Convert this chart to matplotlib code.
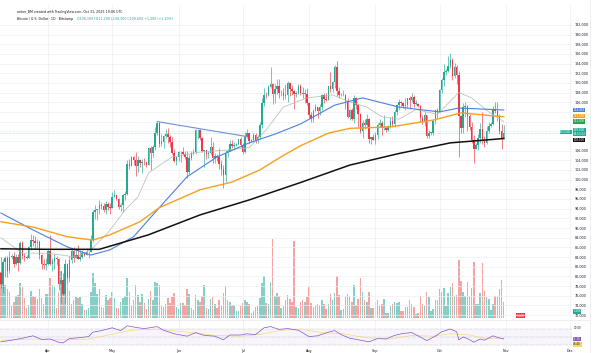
import numpy as np
import pandas as pd
import matplotlib
matplotlib.use("Agg")
import matplotlib.pyplot as plt
import matplotlib.dates as mdates
from matplotlib.lines import Line2D

# BTC / USD, Bitstamp, 1D candles from 10 Mar to 31 Oct 2025 (prices in thousands of USD)
first_open = 80.7
close = [
    # Mar 10-31
    78.5, 82.9, 83.7, 81.1, 84.0, 84.3, 82.6, 84.1, 82.7, 86.9, 84.2, 84.1, 83.8, 86.1, 87.5, 87.4,
    86.9, 87.2, 84.4, 82.6, 82.4, 82.5,
    # Apr
    85.2, 82.5, 83.1, 83.9, 83.5, 78.4, 79.2, 76.3, 82.6, 79.6, 83.4, 85.3, 83.7, 84.5, 83.6, 84.0,
    84.9, 84.5, 85.0, 85.1, 87.5, 93.4, 93.7, 93.9, 94.7, 94.6, 93.8, 94.9, 94.3, 94.2,
    # May
    96.5, 96.9, 95.9, 94.3, 94.7, 96.8, 97.0, 103.2, 102.9, 104.7, 104.1, 102.8, 104.1, 103.5, 103.7,
    103.6, 103.1, 106.5, 105.6, 106.8, 109.7, 111.7, 107.3, 107.8, 109.0, 109.4, 108.9, 107.8, 105.6,
    103.9, 104.6,
    # Jun
    105.7, 105.8, 105.4, 104.7, 101.5, 104.4, 105.6, 105.7, 110.2, 110.2, 108.6, 105.9, 106.1, 105.4,
    105.5, 106.8, 104.5, 104.8, 104.6, 103.3, 102.1, 100.9, 105.5, 106.0, 107.3, 106.9, 107.1, 107.3,
    108.3, 107.1,
    # Jul
    105.7, 108.8, 109.6, 108.0, 108.2, 109.2, 108.2, 108.9, 111.3, 115.9, 117.5, 117.4, 119.1, 119.8,
    117.7, 118.7, 119.3, 117.9, 117.9, 117.3, 117.4, 120.0, 118.7, 118.3, 117.6, 117.9, 119.4, 118.0,
    117.8, 117.8, 115.8,
    # Aug
    113.3, 112.6, 114.2, 115.1, 114.1, 115.0, 117.5, 116.7, 116.5, 119.3, 118.7, 120.2, 123.3, 118.3,
    117.4, 117.5, 117.5, 116.3, 112.9, 114.3, 112.5, 116.9, 115.4, 113.5, 110.1, 111.8, 111.3, 112.6,
    108.4, 108.8, 108.2,
    # Sep
    109.3, 111.2, 111.7, 110.7, 110.7, 110.2, 111.1, 112.1, 111.5, 113.9, 115.4, 116.1, 115.9, 115.3,
    115.4, 116.8, 116.5, 117.1, 115.7, 115.7, 115.3, 112.7, 112.0, 113.3, 109.0, 109.7, 109.7, 112.1,
    114.4, 114.0,
    # Oct
    118.6, 120.6, 122.3, 122.4, 123.5, 124.8, 121.4, 123.3, 121.7, 113.2, 110.7, 115.1, 115.3, 113.1,
    110.8, 108.2, 106.4, 107.2, 108.6, 110.5, 108.4, 107.6, 110.1, 111.0, 111.6, 114.5, 114.1, 112.9,
    110.1, 108.3, 109.6,
]
high = [
    84.0, 83.6, 84.3, 84.3, 85.3, 84.7, 85.0, 84.7, 84.6, 87.4, 87.4, 84.8, 84.5, 86.2, 88.8, 88.5,
    88.3, 87.8, 87.5, 84.6, 83.5, 83.9,
    85.6, 88.5, 83.9, 84.7, 84.2, 83.8, 81.2, 80.8, 83.5, 82.7, 84.2, 85.9, 86.1, 85.8, 86.4, 85.4,
    85.5, 85.1, 85.6, 85.3, 88.5, 93.8, 94.7, 94.0, 95.8, 95.1, 95.2, 95.6, 95.4, 95.2,
    97.4, 97.9, 96.9, 96.3, 95.2, 97.0, 97.7, 104.0, 104.3, 104.9, 104.9, 105.8, 104.9, 104.3, 104.2,
    104.5, 103.7, 106.8, 107.0, 107.1, 110.8, 112.0, 111.9, 109.4, 109.3, 110.4, 110.7, 109.3, 108.9,
    106.3, 104.9,
    105.9, 105.9, 106.8, 106.0, 105.9, 105.3, 105.9, 106.4, 110.5, 110.4, 110.4, 108.8, 106.2, 106.2,
    106.0, 108.9, 107.8, 105.6, 105.3, 106.5, 104.0, 103.1, 106.1, 106.3, 108.1, 108.2, 107.8, 107.6,
    108.5, 108.8,
    107.5, 109.8, 110.5, 109.7, 108.5, 109.7, 109.7, 109.2, 111.9, 116.8, 118.9, 118.2, 119.5, 123.2,
    119.9, 119.8, 120.9, 120.9, 118.6, 118.9, 119.7, 120.3, 120.1, 119.5, 118.5, 118.4, 119.8, 119.8,
    119.2, 118.8, 118.9,
    116.1, 114.0, 114.7, 115.7, 115.1, 115.7, 117.7, 117.9, 117.9, 119.3, 122.3, 120.3, 123.6, 124.5,
    119.2, 117.9, 118.6, 117.6, 116.8, 114.6, 114.8, 117.4, 117.0, 115.6, 113.7, 112.4, 112.6, 113.5,
    112.7, 108.9, 109.5,
    109.9, 111.8, 112.6, 112.1, 113.3, 111.0, 111.3, 112.9, 113.2, 114.3, 115.6, 116.6, 116.3, 116.1,
    116.8, 116.9, 117.3, 117.9, 117.5, 116.4, 115.9, 115.4, 113.3, 114.0, 113.4, 110.3, 109.8, 112.3,
    114.5, 114.8,
    118.7, 121.0, 123.9, 122.9, 125.5, 126.2, 125.1, 124.1, 123.8, 122.5, 113.4, 115.8, 116.0, 115.4,
    113.6, 111.9, 109.3, 107.5, 109.5, 111.7, 114.0, 109.0, 111.0, 112.0, 111.9, 115.2, 116.1, 116.0,
    113.6, 111.6, 111.2,
]
low = [
    77.5, 76.6, 79.9, 79.9, 80.8, 83.6, 82.0, 82.4, 81.2, 82.6, 83.6, 83.2, 83.6, 83.7, 85.5, 86.3,
    85.9, 85.9, 83.6, 81.6, 81.6, 81.3,
    82.4, 82.3, 81.2, 81.6, 82.4, 77.2, 74.5, 76.2, 74.6, 78.4, 78.9, 82.8, 83.0, 83.7, 83.6, 83.1,
    83.9, 84.3, 84.5, 83.9, 85.1, 87.1, 91.9, 91.7, 92.9, 93.9, 93.4, 92.9, 93.8, 92.9,
    94.1, 96.4, 95.7, 93.9, 93.5, 93.4, 95.8, 96.9, 102.3, 102.8, 103.1, 100.8, 101.5, 102.6, 101.4,
    103.1, 102.6, 103.0, 102.0, 104.6, 106.1, 109.3, 106.7, 106.9, 106.6, 108.7, 107.6, 106.8, 105.4,
    103.6, 103.1,
    103.9, 103.7, 105.1, 104.2, 100.4, 101.1, 104.0, 105.1, 105.3, 108.4, 108.1, 105.7, 102.7, 104.3,
    104.5, 105.0, 103.4, 103.5, 103.9, 102.3, 100.9, 98.2, 99.6, 104.6, 105.9, 106.6, 106.2, 106.9,
    107.2, 106.8,
    105.3, 105.5, 108.6, 107.3, 107.8, 107.8, 107.5, 107.5, 108.4, 110.6, 115.3, 116.9, 117.3, 118.9,
    115.7, 115.8, 117.8, 116.8, 117.3, 116.5, 116.6, 116.1, 117.3, 117.4, 114.7, 117.1, 117.8, 117.4,
    116.9, 115.8, 115.5,
    112.7, 112.0, 112.0, 114.1, 112.7, 113.3, 114.3, 115.9, 116.3, 116.5, 118.1, 118.2, 118.9, 117.2,
    116.8, 117.2, 117.2, 114.7, 112.7, 112.4, 112.4, 111.7, 114.6, 110.9, 109.7, 108.7, 110.4, 110.9,
    107.5, 107.4, 108.1,
    107.3, 108.5, 110.8, 109.3, 110.2, 109.9, 110.1, 110.7, 110.8, 110.9, 113.4, 114.3, 115.2, 114.8,
    114.4, 114.8, 114.7, 116.1, 115.1, 115.4, 115.1, 112.0, 111.5, 111.1, 108.6, 108.6, 109.2, 109.2,
    111.6, 112.7,
    113.9, 118.0, 119.3, 121.6, 122.2, 123.1, 120.6, 121.1, 119.7, 104.6, 109.7, 109.7, 113.0, 110.1,
    110.2, 107.6, 103.5, 106.3, 106.2, 107.5, 107.4, 106.7, 107.3, 109.7, 110.8, 111.3, 113.8, 112.2,
    109.5, 106.3, 108.5,
]
# volume, thousands of BTC
volume = [
    4.2, 4.0, 3.0, 2.6, 2.4, 1.1, 1.5, 2.0, 2.1, 3.2, 2.8, 1.8, 0.9, 1.2, 2.5, 2.0, 1.9, 1.7, 2.6, 1.8,
    1.3, 2.2,
    2.2, 3.6, 3.0, 2.9, 0.9, 2.4, 4.3, 3.0, 4.2, 3.0, 2.5, 1.3, 1.6, 1.9, 1.8, 1.9, 1.3, 0.7, 0.7, 0.9,
    2.4, 4.1, 3.2, 2.2, 2.6, 1.0, 0.9, 2.1, 1.6, 1.8,
    2.4, 1.8, 0.9, 0.9, 1.5, 1.8, 2.0, 3.6, 2.4, 1.2, 1.6, 3.0, 2.1, 1.5, 2.2, 1.4, 0.8, 1.7, 2.5, 1.6,
    3.3, 3.2, 3.0, 1.1, 1.0, 1.3, 1.8, 1.4, 1.9, 2.3, 1.0,
    0.8, 1.4, 1.4, 1.2, 2.6, 2.2, 0.9, 0.7, 2.1, 1.6, 1.5, 2.0, 3.0, 0.9, 0.8, 1.7, 1.9, 1.3, 0.9, 1.6,
    1.2, 2.3, 2.9, 1.6, 1.5, 1.2, 1.2, 0.6, 0.6, 1.1,
    1.4, 1.6, 1.5, 1.3, 0.5, 0.6, 1.0, 1.1, 1.8, 3.2, 3.8, 1.4, 1.3, 3.3, 7.2, 2.0, 2.3, 2.0, 0.9, 1.1,
    1.6, 2.1, 1.7, 1.5, 7.0, 1.0, 0.9, 1.5, 1.6, 1.5, 1.9,
    2.8, 1.4, 1.0, 1.2, 1.3, 1.2, 1.6, 1.3, 0.8, 1.3, 2.2, 1.6, 2.3, 3.8, 2.1, 0.7, 0.8, 2.0, 2.2, 2.0,
    1.5, 3.0, 1.2, 1.7, 3.6, 2.4, 1.6, 1.5, 2.4, 0.9, 0.9,
    1.5, 1.6, 1.2, 1.3, 1.7, 0.5, 0.5, 1.1, 1.3, 1.5, 1.4, 1.5, 0.6, 0.6, 1.0, 1.0, 1.6, 1.3, 1.0, 0.4,
    0.5, 2.0, 1.3, 1.2, 2.4, 1.9, 0.6, 0.8, 1.6, 1.6,
    2.6, 2.4, 2.7, 1.1, 2.3, 2.8, 3.2, 2.0, 2.1, 5.3, 3.4, 2.4, 2.0, 3.3, 2.0, 2.7, 5.1, 1.3, 1.3, 2.3,
    5.0, 2.5, 1.9, 1.7, 0.7, 1.3, 2.0, 2.0, 2.6, 3.5, 1.5,
]

# moving averages
sma20_dates = ['2025-03-10', '2025-03-20', '2025-04-01', '2025-04-14', '2025-04-21', '2025-04-29',
               '2025-05-07', '2025-05-13', '2025-05-18', '2025-05-29', '2025-06-11', '2025-06-23',
               '2025-07-04', '2025-07-12', '2025-07-20', '2025-07-31', '2025-08-12', '2025-08-20',
               '2025-08-28', '2025-09-04', '2025-09-12', '2025-09-20', '2025-09-30', '2025-10-10',
               '2025-10-16', '2025-10-24', '2025-10-31']
sma20 = [88.0, 84.8, 84.8, 84.0, 85.5, 89.0, 93.7, 96.4, 101.4, 104.7, 105.7, 106.1, 106.6, 110.3,
         115.0, 116.9, 117.5, 116.1, 115.0, 113.0, 112.5, 114.5, 113.5, 118.0, 116.9, 114.0, 112.0]
sma50_dates = ['2025-03-10', '2025-03-25', '2025-04-10', '2025-04-21', '2025-04-30', '2025-05-11',
               '2025-05-23', '2025-06-05', '2025-06-19', '2025-07-04', '2025-07-16', '2025-07-28',
               '2025-08-13', '2025-08-26', '2025-09-12', '2025-10-01', '2025-10-10', '2025-10-31']
sma50 = [93.1, 89.6, 86.1, 84.4, 85.5, 88.2, 94.2, 100.6, 104.7, 107.6, 109.4, 111.5, 115.4, 116.9,
         115.0, 114.0, 114.8, 114.4]
sma100_dates = ['2025-03-10', '2025-03-25', '2025-04-10', '2025-04-22', '2025-04-30', '2025-05-14',
                '2025-05-23', '2025-06-11', '2025-06-26', '2025-07-09', '2025-07-20', '2025-07-28',
                '2025-08-10', '2025-08-20', '2025-09-08', '2025-09-28', '2025-10-11', '2025-10-31']
sma100 = [91.3, 90.2, 88.2, 87.5, 88.6, 91.3, 94.2, 97.9, 99.5, 102.0, 105.0, 107.0, 109.6, 110.6,
          110.9, 112.3, 113.8, 113.0]
sma200_dates = ['2025-03-10', '2025-04-01', '2025-04-25', '2025-05-18', '2025-06-11', '2025-07-04',
                '2025-07-28', '2025-08-20', '2025-09-12', '2025-10-06', '2025-10-31']
sma200 = [85.7, 85.6, 85.6, 88.6, 92.7, 95.8, 99.4, 103.0, 105.4, 107.6, 108.5]

# descending trendline drawn on the chart
trend_dates = ['2025-05-22', '2025-07-03']
trend_vals = [112.0, 108.9]

# RSI (14) and its moving average
rsi_dates = ['2025-03-10', '2025-03-15', '2025-03-20', '2025-03-25', '2025-03-29', '2025-04-02',
             '2025-04-06', '2025-04-08', '2025-04-11', '2025-04-15', '2025-04-20', '2025-04-22',
             '2025-04-26', '2025-05-01', '2025-05-05', '2025-05-08', '2025-05-12', '2025-05-16',
             '2025-05-22', '2025-05-25', '2025-05-30', '2025-06-05', '2025-06-09', '2025-06-13',
             '2025-06-18', '2025-06-22', '2025-06-25', '2025-06-30', '2025-07-03', '2025-07-07',
             '2025-07-11', '2025-07-14', '2025-07-18', '2025-07-22', '2025-07-27', '2025-08-01',
             '2025-08-05', '2025-08-10', '2025-08-13', '2025-08-16', '2025-08-20', '2025-08-25',
             '2025-08-29', '2025-09-02', '2025-09-06', '2025-09-10', '2025-09-14', '2025-09-18',
             '2025-09-22', '2025-09-25', '2025-09-29', '2025-10-02', '2025-10-06', '2025-10-09',
             '2025-10-10', '2025-10-12', '2025-10-14', '2025-10-17', '2025-10-20', '2025-10-22',
             '2025-10-26', '2025-10-28', '2025-10-31']
rsi = [38, 42, 47, 53, 44, 45, 37, 35, 46, 48, 51, 62, 66, 73, 66, 78, 74, 71, 76, 67, 58, 52, 61,
       54, 52, 43, 55, 55, 58, 56, 73, 76, 69, 71, 67, 51, 53, 62, 66, 56, 47, 42, 38, 46, 45, 54,
       59, 61, 50, 41, 52, 63, 70, 63, 43, 50, 46, 37, 45, 42, 53, 49, 45.1]
rsi_ma_dates = ['2025-03-10', '2025-03-25', '2025-04-08', '2025-04-20', '2025-05-01', '2025-05-10',
                '2025-05-22', '2025-06-05', '2025-06-18', '2025-06-30', '2025-07-10', '2025-07-18',
                '2025-07-28', '2025-08-08', '2025-08-16', '2025-08-28', '2025-09-08', '2025-09-18',
                '2025-09-28', '2025-10-06', '2025-10-14', '2025-10-22', '2025-10-31']
rsi_ma = [42, 45, 43, 45, 57, 67, 70, 62, 54, 52, 57, 66, 70, 60, 59, 48, 45, 54, 52, 58, 56, 47,
          46.4]

price_ticks = list(range(72, 133, 2))
covered_ticks = [108, 110, 112, 114]  # hidden behind the coloured value boxes

UP, DOWN = '#22ab94', '#f23645'
W, H = 600, 353


def box(x0, y0, x1, y1):
    return [x0 / W, 1 - y1 / H, (x1 - x0) / W, (y1 - y0) / H]


dates = pd.date_range('2025-03-10', periods=len(close), freq='D')
c = np.array(close)
o = np.array([first_open] + close[:-1])
hi = np.maximum(np.array(high), np.maximum(o, c))
lo = np.minimum(np.array(low), np.minimum(o, c))
up = c >= o
colors = np.where(up, UP, DOWN)
vcolors = np.where(up, '#86cfc6', '#f4a3a1')

fig = plt.figure(figsize=(6, 3.53), dpi=100)
fig.patch.set_facecolor('white')

axv = fig.add_axes(box(0, 5, 572, 318))
ax = fig.add_axes(box(0, 5, 572, 318), sharex=axv)
ra = fig.add_axes(box(0, 320, 572, 347), sharex=axv)
axv.set_zorder(1)
ax.set_zorder(2)
ax.patch.set_visible(False)

x0 = dates[0] - pd.Timedelta(days=0.43)
x1 = dates[0] + pd.Timedelta(days=266.9)

# volume
axv.bar(dates, volume, width=0.7, color=vcolors, linewidth=0)
axv.set_ylim(0, 28.5)
axv.set_yticks([])
axv.tick_params(axis='x', length=0, labelbottom=False)

# candles
ax.vlines(dates, lo, hi, colors=colors, linewidth=0.45, zorder=2)
ax.bar(dates, np.maximum(np.abs(c - o), 0.08), bottom=np.minimum(o, c), width=0.7,
       color=colors, linewidth=0, zorder=3)

# moving averages and trendline
ax.plot(pd.to_datetime(sma20_dates), sma20, color='#aebcaa', lw=0.5, zorder=4)
ax.plot(pd.to_datetime(sma50_dates), sma50, color='#4d7fe0', lw=0.8, zorder=4)
ax.plot(pd.to_datetime(sma100_dates), sma100, color='#f5a01e', lw=1.0, zorder=4)
ax.plot(pd.to_datetime(sma200_dates), sma200, color='#111111', lw=1.1, zorder=4)
ax.plot(pd.to_datetime(trend_dates), trend_vals, color='#6f8fdc', lw=0.8, zorder=4)
ax.axhline(close[-1], color=UP, lw=0.4, ls=(0, (1, 1.5)), alpha=0.7, zorder=1)

ax.set_xlim(x0, x1)
ax.set_ylim(71.4, 136.1)
ax.set_yticks(price_ticks)
ax.set_yticklabels(['' if v in covered_ticks else f"{v * 1000:,.0f}" for v in price_ticks])
ax.yaxis.tick_right()
ax.tick_params(axis='y', length=0, pad=2.2, labelsize=2.4, labelcolor='#131722')
ax.xaxis.set_major_locator(mdates.MonthLocator())
ax.tick_params(axis='x', length=0, labelbottom=False)
ax.grid(True, color='#eceff4', lw=0.5)
ax.set_axisbelow(True)


def price_label(axis, text, y, color, fg='white', dx=1.0, ha='left'):
    axis.annotate(text, xy=(1, y), xycoords=('axes fraction', 'data'), xytext=(dx, 0),
                  textcoords='offset points', fontsize=2.0, color=fg, va='center', ha=ha,
                  linespacing=1.0,
                  bbox=dict(boxstyle='square,pad=0.15', fc=color, ec='none'),
                  annotation_clip=False, zorder=10)


price_label(ax, f"{sma50[-1] * 1000:,.0f}", 114.41, '#4d7fe0')
price_label(ax, f"{sma100[-1] * 1000:,.0f}", 113.17, '#f5a01e')
price_label(ax, f"{sma20[-1] * 1000:,.0f}", 112.03, '#2e9e4f')
price_label(ax, f"{close[-1] * 1000:,.0f}\n04:53:12", 109.86, UP)
price_label(ax, "BTCUSD", 109.86, UP, dx=-0.5, ha='right')
price_label(ax, f"{sma200[-1] * 1000:,.0f}", 108.21, '#111111')
price_label(axv, f"{volume[-1]:.2f}K", 0.6, '#26a69a')
axv.annotate(f"{volume[-1]:.2f}K", xy=(dates[-1] + pd.Timedelta(days=6), 0.2), fontsize=2.0,
             color='white', va='center', ha='left',
             bbox=dict(boxstyle='square,pad=0.15', fc=DOWN, ec='none'), annotation_clip=False)

# RSI pane
ra.axhspan(30, 70, color='#7e57c2', alpha=0.06, lw=0)
for lvl in (70, 50, 30):
    ra.axhline(lvl, color='#9598a1', lw=0.35, ls=(0, (1, 1.5)))
ra.plot(pd.to_datetime(rsi_ma_dates), rsi_ma, color='#f5d76e', lw=0.45)
ra.plot(pd.to_datetime(rsi_dates), rsi, color='#7e57c2', lw=0.5)
ra.set_ylim(25, 92.5)
ra.set_yticks([])
ra.set_xlim(x0, x1)
ra.xaxis.set_major_locator(mdates.MonthLocator())
ra.xaxis.set_major_formatter(mdates.DateFormatter('%b'))
ra.tick_params(axis='x', length=0, pad=1.4, labelsize=2.4, labelcolor='#131722')
ra.grid(True, axis='x', color='#eceff4', lw=0.5)
ra.annotate("70.00", xy=(1, 72.5), xycoords=('axes fraction', 'data'), xytext=(1.5, 0),
            textcoords='offset points', fontsize=2.0, color='#131722', va='center',
            annotation_clip=False)
price_label(ra, f"{rsi[-1]:.2f}", 45.0, '#7e57c2')
price_label(ra, f"{rsi_ma[-1]:.2f}", 32.0, '#f5d76e', fg='#131722')

for a in (ax, axv, ra):
    for s in a.spines.values():
        s.set_visible(False)

fig.add_artist(Line2D([0, 590 / W], [1 - 319.5 / H] * 2, color='#e0e3eb', lw=0.4))
fig.add_artist(Line2D([590 / W] * 2, [0, 1], color='#e0e3eb', lw=0.4))

# header
fig.text(17 / W, 1 - 12 / H, "anton_BM created with TradingView.com, Oct 31, 2025 19:06 UTC",
         fontsize=2.3, color='#131722', va='center')
fig.text(17 / W, 1 - 19 / H, "Bitcoin / U.S. Dollar · 1D · Bitstamp", fontsize=2.3,
         color='#131722', va='center')
chg = (close[-1] - o[-1]) * 1000
fig.text(77 / W, 1 - 19 / H,
         f"O{o[-1] * 1000:,.0f} H{hi[-1] * 1000:,.0f} L{lo[-1] * 1000:,.0f} C{close[-1] * 1000:,.0f}"
         f" {chg:+,.0f} ({chg / (o[-1] * 10):+.2f}%)",
         fontsize=2.3, color=UP, va='center')

fig.savefig('out.png', dpi=100, facecolor='white')
